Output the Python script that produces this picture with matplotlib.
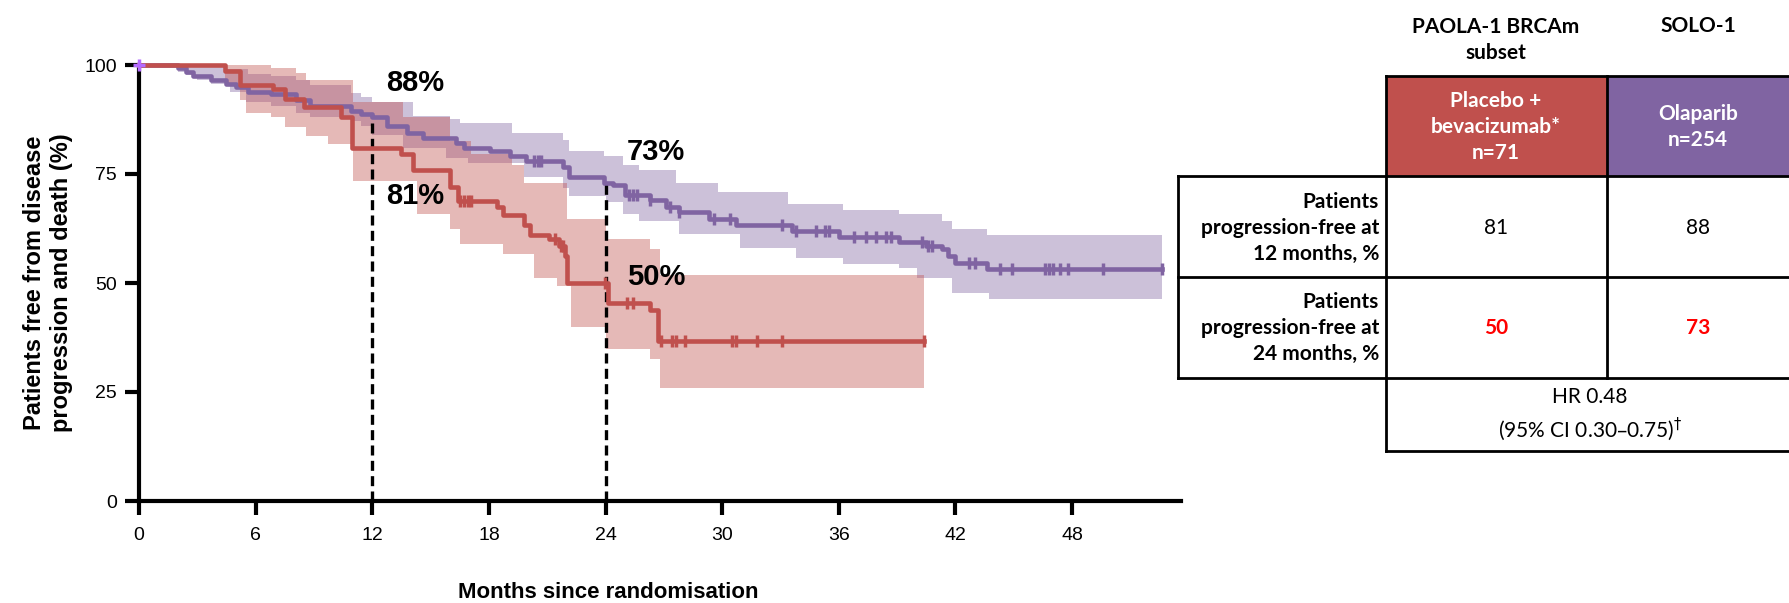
import numpy as np
import matplotlib.pyplot as plt
from matplotlib.patches import Rectangle

plt.rcParams['font.family'] = ['Liberation Sans', 'DejaVu Sans']

RED = '#C0504D'
PURPLE = '#8064A2'

# Placebo + bevacizumab (PAOLA-1 BRCAm subset): KM steps, months / %
red_t = [0, 4.4, 5.2, 6.9, 7.5, 8.5, 10.4, 10.95, 13.5, 14.1, 16.0, 16.4, 18.4,
         18.7, 19.8, 20.1, 21.1, 21.6, 21.9, 22.0, 24.1, 26.3, 26.7]
red_s = [100, 98.6, 95.5, 94.4, 92.2, 90.3, 88.0, 81.0, 79.5, 76.0, 72.1, 68.8, 67.4,
         65.5, 63.2, 61.0, 60.1, 58.5, 56.2, 50.0, 45.5, 43.8, 36.7]
red_end = 40.4
red_cens = [16.5, 16.7, 16.9, 17.1, 21.4, 21.7, 21.8, 23.95, 25.1, 25.4, 26.85, 27.4,
            27.6, 28.1, 30.5, 30.7, 31.8, 33.1, 40.4]
red_hi_t = [0, 6.8, 8.1, 8.6, 11.0, 13.6, 16.0, 17.1, 19.2, 19.8, 22.0, 24.0, 26.3, 26.8]
red_hi = [100, 99.2, 98.1, 96.5, 91.5, 88.0, 82.6, 79.5, 77.0, 73.0, 64.7, 60.1, 57.9, 51.8]
red_lo_t = [0, 4.4, 5.2, 5.5, 6.8, 7.5, 8.6, 9.7, 11.0, 14.3, 16.0, 16.5, 18.7, 20.3,
            21.5, 22.2, 24.0, 26.3, 26.8]
red_lo = [100, 95.5, 92.0, 89.1, 88.0, 85.7, 83.7, 81.8, 73.3, 65.9, 62.4, 58.9, 56.6,
          51.2, 49.2, 39.9, 34.9, 32.6, 26.0]

# Olaparib (SOLO-1)
pur_t = [0, 2.0, 2.4, 2.8, 3.7, 4.5, 5.0, 5.6, 6.8, 8.1, 8.8, 10.9, 11.4, 12.0, 12.75,
         13.8, 14.6, 16.3, 16.7, 18.05, 19.1, 19.9, 21.8, 22.1, 23.9, 24.4, 25.0, 26.3,
         27.1, 27.8, 29.3, 30.7, 33.6, 36.0, 39.1, 40.5, 41.3, 41.6, 42.0, 43.6]
pur_s = [100, 99.2, 98.4, 97.5, 96.5, 95.7, 95.0, 93.8, 93.4, 91.9, 90.7, 89.5, 88.8,
         88.0, 86.0, 84.5, 83.3, 82.2, 81.0, 80.2, 79.1, 77.9, 76.7, 74.4, 73.0, 72.5,
         70.2, 69.0, 67.4, 66.3, 64.7, 63.2, 62.0, 60.5, 59.3, 58.5, 57.7, 56.2, 54.7, 53.3]
pur_end = 52.6
pur_cens = [20.3, 20.5, 20.7, 25.2, 25.4, 25.6, 26.3, 27.3, 27.8, 29.6, 30.4, 33.1, 33.8,
            34.8, 35.3, 35.5, 36.8, 37.4, 37.9, 38.4, 38.7, 40.3, 40.6, 40.8, 42.7, 43.0,
            44.3, 44.9, 46.6, 46.8, 47.0, 47.4, 47.8, 49.6, 52.6]
pur_hi_t = [0, 4.5, 5.6, 6.8, 8.1, 8.8, 10.9, 11.4, 12.0, 14.1, 16.0, 16.5, 19.2, 21.8,
            22.1, 23.9, 24.9, 25.7, 27.6, 29.8, 33.4, 36.2, 39.1, 41.3, 41.8, 43.6]
pur_hi = [100, 99.0, 98.0, 97.5, 96.5, 95.5, 93.5, 92.6, 91.5, 88.4, 87.6, 86.8, 84.5,
          82.7, 80.2, 79.1, 77.1, 76.0, 72.9, 70.9, 68.2, 66.7, 65.9, 64.3, 62.4, 60.9]
pur_lo_t = [0, 2.0, 2.4, 3.0, 3.7, 4.7, 5.5, 6.8, 8.1, 8.8, 10.9, 11.4, 12.0, 13.6, 15.8,
            16.9, 19.8, 21.8, 22.1, 24.0, 24.9, 25.7, 27.8, 30.9, 33.8, 36.2, 39.1, 40.0,
            41.8, 43.7]
pur_lo = [100, 98.5, 97.7, 96.5, 95.7, 93.8, 91.5, 90.7, 89.1, 88.0, 87.2, 86.0, 84.0,
          81.0, 78.7, 77.5, 74.4, 71.7, 70.0, 68.6, 65.9, 64.3, 61.2, 58.1, 55.8, 54.3,
          53.5, 51.2, 47.7, 46.3]

x_ticks = [0, 6, 12, 18, 24, 30, 36, 42, 48]
y_ticks = [0, 25, 50, 75, 100]
landmarks = [12, 24]

arm_names = ['Placebo +\nbevacizumab*\nn=71', 'Olaparib\nn=254']
study_names = ['PAOLA-1 BRCAm\nsubset', 'SOLO-1']
row_names = ['Patients\nprogression-free at\n12 months, %',
             'Patients\nprogression-free at\n24 months, %']
hr_text = 'HR 0.48\n(95% CI 0.30\u20130.75)$^{\\dagger}$'


def step_at(t, times, vals):
    idx = np.searchsorted(times, t, side='right') - 1
    return np.asarray(vals, dtype=float)[np.clip(idx, 0, len(vals) - 1)]


def draw_arm(ax, t, s, end, cens, lo_t, lo, hi_t, hi, color):
    grid = np.union1d(np.union1d(lo_t, hi_t), [end])
    ax.fill_between(grid, step_at(grid, lo_t, lo), step_at(grid, hi_t, hi),
                    step='post', color=color, alpha=0.4, lw=0, zorder=1)
    ax.step(list(t) + [end], list(s) + [s[-1]], where='post', color=color,
            lw=3.3, clip_on=False, zorder=4)
    ax.plot(cens, step_at(cens, t, s), ls='none', marker='|', ms=9, mew=2.5,
            color=color, clip_on=False, zorder=5)


W, H = 1789, 603
fig = plt.figure(figsize=(W / 100, H / 100), dpi=100)
ax = fig.add_axes([139 / W, 1 - 501 / H, 1042 / W, 436 / H])

draw_arm(ax, pur_t, pur_s, pur_end, pur_cens, pur_lo_t, pur_lo, pur_hi_t, pur_hi, PURPLE)
draw_arm(ax, red_t, red_s, red_end, red_cens, red_lo_t, red_lo, red_hi_t, red_hi, RED)
ax.plot([0], [100], marker='+', color='#B36BFF', ms=9, mew=2.5, clip_on=False, zorder=6)

# survival at 12 and 24 months, used for the dashed guides, labels and table
red_at = step_at(landmarks, red_t, red_s)
pur_at = step_at(landmarks, pur_t, pur_s)
for m, p in zip(landmarks, pur_at):
    ax.vlines(m, 0, p, color='black', lw=2.4, linestyles=(0, (3, 1.6)), zorder=3)

lbl = dict(fontsize=21, fontweight='bold', va='center', ha='left')
ax.text(12.7, 95.8, f'{pur_at[0]:.0f}%', **lbl)
ax.text(12.7, 70.0, f'{red_at[0]:.0f}%', **lbl)
ax.text(25.1, 80.0, f'{pur_at[1]:.0f}%', **lbl)
ax.text(25.1, 51.4, f'{red_at[1]:.0f}%', **lbl)

ax.set_xlim(0, 53.6)
ax.set_ylim(0, 100)
ax.set_xticks(x_ticks)
ax.set_yticks(y_ticks)
for side in ['top', 'right']:
    ax.spines[side].set_visible(False)
for side in ['left', 'bottom']:
    ax.spines[side].set_linewidth(3)
ax.tick_params(direction='out', length=10, width=3, labelsize=14)
ax.tick_params(axis='x', pad=9)
ax.tick_params(axis='y', pad=6)
ax.set_xlabel('Months since randomisation', fontsize=16, fontweight='bold')
ax.xaxis.set_label_coords(0.45, -0.185)
ax.set_ylabel('Patients free from disease\nprogression and death (%)', fontsize=17,
              fontweight='bold', labelpad=8)

# summary table drawn in pixel space on the right
tab = fig.add_axes([0, 0, 1, 1])
tab.set_xlim(0, W)
tab.set_ylim(H, 0)
tab.axis('off')
tab.add_patch(Rectangle((1386, 76), 221, 100, color=RED, lw=0))
tab.add_patch(Rectangle((1607, 76), 182, 100, color=PURPLE, lw=0))
segs = [((1386, 1789), (76, 76)), ((1178, 1789), (176, 176)),
        ((1178, 1789), (277, 277)), ((1178, 1789), (378, 378)),
        ((1386, 1789), (451, 451)), ((1178, 1178), (176, 378)),
        ((1386, 1386), (76, 451)), ((1607, 1607), (76, 378))]
for xs, ys in segs:
    tab.plot(xs, ys, color='black', lw=2, solid_capstyle='projecting')

col_x = [1496, 1698]
tf = dict(family=['Lato', 'DejaVu Sans'], fontsize=15, ha='center', va='center',
          linespacing=1.38)
tab.text(col_x[0], 40, study_names[0], fontweight='bold', **tf)
tab.text(col_x[1], 26, study_names[1], fontweight='bold', **tf)
for x, name in zip(col_x, arm_names):
    tab.text(x, 127, name, color='white', fontweight='bold', **tf)
for y, name in zip([228, 328], row_names):
    tab.text(1379, y, name, fontweight='bold',
             **{**tf, 'ha': 'right', 'multialignment': 'right'})
for x, v12, v24 in zip(col_x, [red_at[0], pur_at[0]], [red_at[1], pur_at[1]]):
    tab.text(x, 228, f'{v12:.0f}', **tf)
    tab.text(x, 328, f'{v24:.0f}', color='#FF0000', fontweight='bold', **tf)
tab.text(1590, 415, hr_text, **tf)

fig.savefig('out.png', dpi=100)
